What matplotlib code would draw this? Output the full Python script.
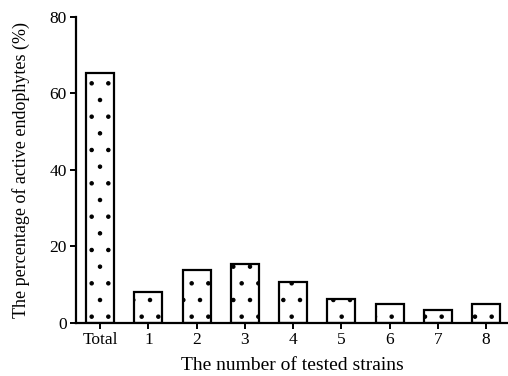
import numpy as np
import matplotlib
matplotlib.use("Agg")
import matplotlib.pyplot as plt

# data
categories = ["Total", "1", "2", "3", "4", "5", "6", "7", "8"]
percent = [65.3, 7.9, 13.8, 15.3, 10.5, 6.3, 4.8, 3.2, 4.8]

plt.rcParams["font.family"] = ["Liberation Serif", "DejaVu Serif"]
plt.rcParams["hatch.linewidth"] = 0.8

fig = plt.figure(figsize=(5.08, 3.76), dpi=100)
ax = fig.add_axes([0.1496, 0.142, 0.85, 0.814])

x = np.arange(len(categories))
ax.bar(x, percent, width=0.58, color="white", edgecolor="black",
       linewidth=1.6, hatch=".")

ax.set_xlim(-0.5, 8.45)
ax.set_ylim(0, 80)
ax.set_yticks([0, 20, 40, 60, 80])
ax.set_xticks(x)
ax.set_xticklabels(categories)

for s in ["top", "right"]:
    ax.spines[s].set_visible(False)
for s in ["left", "bottom"]:
    ax.spines[s].set_linewidth(1.6)

ax.tick_params(axis="both", direction="out", length=4.5, width=1.4,
               labelsize=12.5, pad=2)

ax.set_xlabel("The number of tested strains", fontsize=14, labelpad=7)
ax.set_ylabel("The percentage of active endophytes (%)", fontsize=13,
              labelpad=14)

fig.savefig("out.png", dpi=100)
